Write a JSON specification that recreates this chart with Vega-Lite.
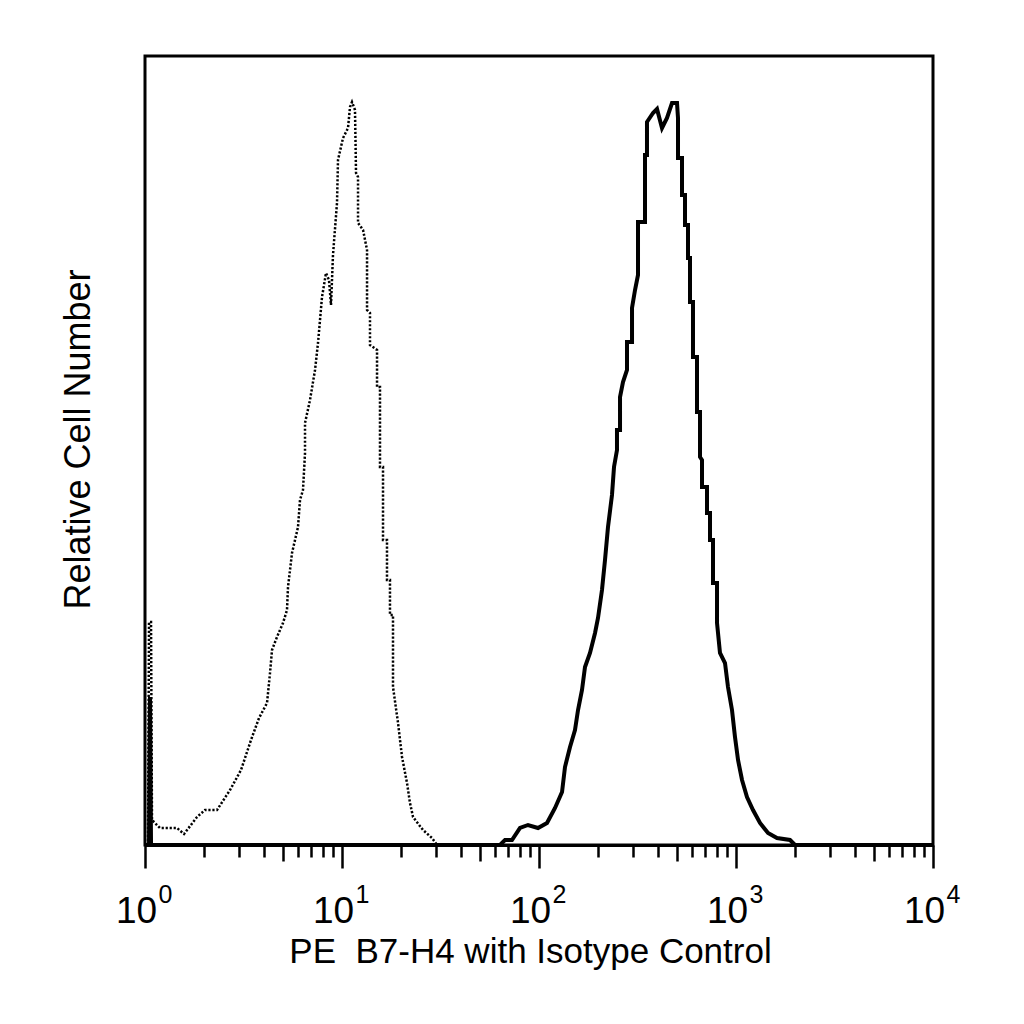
{
  "$schema": "https://vega.github.io/schema/vega-lite/v6.json",
  "width": 788,
  "height": 789,
  "autosize": "none",
  "padding": {"left": 145, "top": 56, "right": 91, "bottom": 179},
  "background": "white",
  "config": {
    "font": "Liberation Sans",
    "view": {"stroke": "black", "strokeWidth": 3}
  },
  "datasets": {
    "isotype": [
      {"i": 1, "fl": 1.036, "count": 0}, {"i": 2, "fl": 1.048, "count": 223}, {"i": 3, "fl": 1.073, "count": 223},
      {"i": 4, "fl": 1.085, "count": 25}, {"i": 5, "fl": 1.191, "count": 17}, {"i": 6, "fl": 1.454, "count": 17},
      {"i": 7, "fl": 1.578, "count": 11}, {"i": 8, "fl": 1.837, "count": 28}, {"i": 9, "fl": 2.016, "count": 35},
      {"i": 10, "fl": 2.32, "count": 35}, {"i": 11, "fl": 2.701, "count": 55}, {"i": 12, "fl": 3.072, "count": 75},
      {"i": 13, "fl": 3.452, "count": 105}, {"i": 14, "fl": 3.791, "count": 127}, {"i": 15, "fl": 4.163, "count": 142},
      {"i": 16, "fl": 4.311, "count": 172}, {"i": 17, "fl": 4.413, "count": 195}, {"i": 18, "fl": 4.678, "count": 208},
      {"i": 19, "fl": 5.018, "count": 222}, {"i": 20, "fl": 5.258, "count": 235}, {"i": 21, "fl": 5.32, "count": 258},
      {"i": 22, "fl": 5.575, "count": 292}, {"i": 23, "fl": 5.774, "count": 305}, {"i": 24, "fl": 5.98, "count": 318},
      {"i": 25, "fl": 6.121, "count": 345}, {"i": 26, "fl": 6.339, "count": 355}, {"i": 27, "fl": 6.49, "count": 392},
      {"i": 28, "fl": 6.49, "count": 422}, {"i": 29, "fl": 6.88, "count": 445}, {"i": 30, "fl": 7.295, "count": 475},
      {"i": 31, "fl": 7.555, "count": 502}, {"i": 32, "fl": 7.916, "count": 548}, {"i": 33, "fl": 8.294, "count": 572},
      {"i": 34, "fl": 8.59, "count": 565}, {"i": 35, "fl": 8.795, "count": 540}, {"i": 36, "fl": 9.0, "count": 590},
      {"i": 37, "fl": 9.432, "count": 642}, {"i": 38, "fl": 9.543, "count": 685}, {"i": 39, "fl": 10.12, "count": 707},
      {"i": 40, "fl": 10.73, "count": 717}, {"i": 41, "fl": 10.98, "count": 738}, {"i": 42, "fl": 11.24, "count": 743},
      {"i": 43, "fl": 11.64, "count": 735}, {"i": 44, "fl": 11.78, "count": 672}, {"i": 45, "fl": 12.06, "count": 668},
      {"i": 46, "fl": 12.06, "count": 622}, {"i": 47, "fl": 12.79, "count": 615}, {"i": 48, "fl": 13.4, "count": 595},
      {"i": 49, "fl": 13.4, "count": 535}, {"i": 50, "fl": 13.87, "count": 532}, {"i": 51, "fl": 13.87, "count": 500},
      {"i": 52, "fl": 15.06, "count": 495}, {"i": 53, "fl": 15.06, "count": 458}, {"i": 54, "fl": 15.59, "count": 458},
      {"i": 55, "fl": 15.59, "count": 378}, {"i": 56, "fl": 16.15, "count": 378}, {"i": 57, "fl": 16.15, "count": 305},
      {"i": 58, "fl": 16.92, "count": 305}, {"i": 59, "fl": 16.92, "count": 265}, {"i": 60, "fl": 17.52, "count": 265},
      {"i": 61, "fl": 17.52, "count": 230}, {"i": 62, "fl": 18.15, "count": 230}, {"i": 63, "fl": 18.15, "count": 158},
      {"i": 64, "fl": 19.25, "count": 122}, {"i": 65, "fl": 20.17, "count": 88}, {"i": 66, "fl": 21.38, "count": 62},
      {"i": 67, "fl": 22.14, "count": 42}, {"i": 68, "fl": 22.94, "count": 28}, {"i": 69, "fl": 25.77, "count": 15},
      {"i": 70, "fl": 28.64, "count": 7}, {"i": 71, "fl": 30.36, "count": 0}
    ],
    "b7h4": [
      {"i": 1, "fl": 1, "count": 0}, {"i": 2, "fl": 1.048, "count": 0}, {"i": 3, "fl": 1.06, "count": 148},
      {"i": 4, "fl": 1.073, "count": 0}, {"i": 5, "fl": 63.39, "count": 0}, {"i": 6, "fl": 67.21, "count": 5},
      {"i": 7, "fl": 72.93, "count": 5}, {"i": 8, "fl": 80.1, "count": 17}, {"i": 9, "fl": 87.95, "count": 20},
      {"i": 10, "fl": 98.83, "count": 17}, {"i": 11, "fl": 109.8, "count": 22}, {"i": 12, "fl": 120.6, "count": 37},
      {"i": 13, "fl": 130.9, "count": 53}, {"i": 14, "fl": 135.5, "count": 78}, {"i": 15, "fl": 143.7, "count": 98},
      {"i": 16, "fl": 152.3, "count": 115}, {"i": 17, "fl": 157.8, "count": 135}, {"i": 18, "fl": 165.3, "count": 155},
      {"i": 19, "fl": 171.2, "count": 178}, {"i": 20, "fl": 181.5, "count": 192}, {"i": 21, "fl": 192.5, "count": 212},
      {"i": 22, "fl": 199.3, "count": 227}, {"i": 23, "fl": 208.8, "count": 255}, {"i": 24, "fl": 216.3, "count": 285},
      {"i": 25, "fl": 224, "count": 318}, {"i": 26, "fl": 234.7, "count": 350}, {"i": 27, "fl": 240.3, "count": 378},
      {"i": 28, "fl": 248.8, "count": 395}, {"i": 29, "fl": 248.8, "count": 415}, {"i": 30, "fl": 257.8, "count": 415},
      {"i": 31, "fl": 257.8, "count": 448}, {"i": 32, "fl": 266.9, "count": 463}, {"i": 33, "fl": 279.7, "count": 475},
      {"i": 34, "fl": 279.7, "count": 503}, {"i": 35, "fl": 296.6, "count": 503}, {"i": 36, "fl": 296.6, "count": 537},
      {"i": 37, "fl": 307.2, "count": 555}, {"i": 38, "fl": 318.1, "count": 570}, {"i": 39, "fl": 318.1, "count": 623},
      {"i": 40, "fl": 345.2, "count": 623}, {"i": 41, "fl": 345.2, "count": 690}, {"i": 42, "fl": 353.3, "count": 690},
      {"i": 43, "fl": 353.3, "count": 723}, {"i": 44, "fl": 379.1, "count": 732}, {"i": 45, "fl": 397.2, "count": 736},
      {"i": 46, "fl": 421.1, "count": 717}, {"i": 47, "fl": 446.4, "count": 727}, {"i": 48, "fl": 473.3, "count": 742},
      {"i": 49, "fl": 501.8, "count": 742}, {"i": 50, "fl": 507.7, "count": 727}, {"i": 51, "fl": 507.7, "count": 687},
      {"i": 52, "fl": 532, "count": 687}, {"i": 53, "fl": 532, "count": 650}, {"i": 54, "fl": 551, "count": 650},
      {"i": 55, "fl": 551, "count": 620}, {"i": 56, "fl": 570.6, "count": 620}, {"i": 57, "fl": 570.6, "count": 587},
      {"i": 58, "fl": 584.1, "count": 587}, {"i": 59, "fl": 584.1, "count": 543}, {"i": 60, "fl": 604.9, "count": 543},
      {"i": 61, "fl": 604.9, "count": 488}, {"i": 62, "fl": 633.9, "count": 488}, {"i": 63, "fl": 633.9, "count": 433},
      {"i": 64, "fl": 656.6, "count": 433}, {"i": 65, "fl": 656.6, "count": 388}, {"i": 66, "fl": 672.1, "count": 385},
      {"i": 67, "fl": 672.1, "count": 358}, {"i": 68, "fl": 712.6, "count": 358}, {"i": 69, "fl": 712.6, "count": 332},
      {"i": 70, "fl": 738, "count": 332}, {"i": 71, "fl": 738, "count": 305}, {"i": 72, "fl": 764.3, "count": 305},
      {"i": 73, "fl": 764.3, "count": 262}, {"i": 74, "fl": 801, "count": 262}, {"i": 75, "fl": 801, "count": 222},
      {"i": 76, "fl": 829.4, "count": 192}, {"i": 77, "fl": 879.5, "count": 182}, {"i": 78, "fl": 910.7, "count": 158},
      {"i": 79, "fl": 954.3, "count": 135}, {"i": 80, "fl": 988.3, "count": 108}, {"i": 81, "fl": 1024, "count": 85},
      {"i": 82, "fl": 1073, "count": 65}, {"i": 83, "fl": 1137, "count": 48}, {"i": 84, "fl": 1220, "count": 35},
      {"i": 85, "fl": 1324, "count": 22}, {"i": 86, "fl": 1454, "count": 12}, {"i": 87, "fl": 1615, "count": 7},
      {"i": 88, "fl": 1880, "count": 5}, {"i": 89, "fl": 1993, "count": 0}, {"i": 90, "fl": 10000, "count": 0}
    ]
  },
  "resolve": {"axis": {"x": "independent"}},
  "layer": [
    {
      "data": {"name": "isotype"},
      "mark": {"type": "line", "stroke": "black", "strokeWidth": 2.5, "strokeDash": [2.2, 1.8], "clip": true},
      "encoding": {
        "x": {
          "field": "fl",
          "type": "quantitative",
          "scale": {"type": "log", "domain": [1, 10000], "nice": false},
          "axis": {
            "orient": "bottom",
            "values": [1, 2, 3, 4, 5, 6, 7, 8, 9, 10, 20, 30, 40, 50, 60, 70, 80, 90, 100, 200, 300, 400, 500, 600, 700, 800, 900, 1000, 2000, 3000, 4000, 5000, 6000, 7000, 8000, 9000, 10000],
            "grid": false,
            "domainColor": "black",
            "domainWidth": 3,
            "tickColor": "black",
            "tickWidth": 2.5,
            "tickSize": {
              "condition": [
                {"test": "indexof([1, 10, 100, 1000, 10000], datum.value) >= 0", "value": 23},
                {"test": "indexof([5, 50, 500, 5000], datum.value) >= 0", "value": 16}
              ],
              "value": 12
            },
            "labelExpr": "indexof([1, 10, 100, 1000, 10000], datum.value) >= 0 ? '10' : ''",
            "labelOverlap": false,
            "labelFlush": false,
            "labelFontSize": 37,
            "labelColor": "black",
            "labelBaseline": "alphabetic",
            "labelOffset": -9,
            "labelPadding": 54,
            "title": "PE\u00a0 B7-H4 with Isotype Control",
            "titleFontSize": 35,
            "titleFontWeight": "normal",
            "titleColor": "black",
            "titleBaseline": "alphabetic",
            "titleAlign": "center",
            "titleX": 385,
            "titleY": 117
          }
        },
        "y": {
          "field": "count",
          "type": "quantitative",
          "scale": {"domain": [0, 789], "nice": false},
          "axis": {
            "ticks": false,
            "labels": false,
            "domain": false,
            "grid": false,
            "title": "Relative Cell Number",
            "titleFontSize": 36,
            "titleFontWeight": "normal",
            "titleColor": "black",
            "titleAngle": -90,
            "titleBaseline": "alphabetic",
            "titleAlign": "center",
            "titleX": -56,
            "titleY": 383
          }
        },
        "order": {"field": "i", "type": "quantitative"}
      }
    },
    {
      "data": {"name": "b7h4"},
      "mark": {"type": "line", "stroke": "black", "strokeWidth": 4, "strokeJoin": "miter", "clip": true},
      "encoding": {
        "x": {
          "field": "fl",
          "type": "quantitative",
          "scale": {"type": "log", "domain": [1, 10000], "nice": false},
          "axis": {
            "orient": "bottom",
            "values": [1, 10, 100, 1000, 10000],
            "grid": false,
            "domain": false,
            "ticks": false,
            "labelExpr": "datum.value == 1 ? '0' : datum.value == 10 ? '1' : datum.value == 100 ? '2' : datum.value == 1000 ? '3' : '4'",
            "labelOverlap": false,
            "labelFlush": false,
            "labelFontSize": 25,
            "labelColor": "black",
            "labelBaseline": "alphabetic",
            "labelOffset": 20,
            "labelPadding": 57,
            "title": null
          }
        },
        "y": {"field": "count", "type": "quantitative", "scale": {"domain": [0, 789], "nice": false}},
        "order": {"field": "i", "type": "quantitative"}
      }
    }
  ]
}
